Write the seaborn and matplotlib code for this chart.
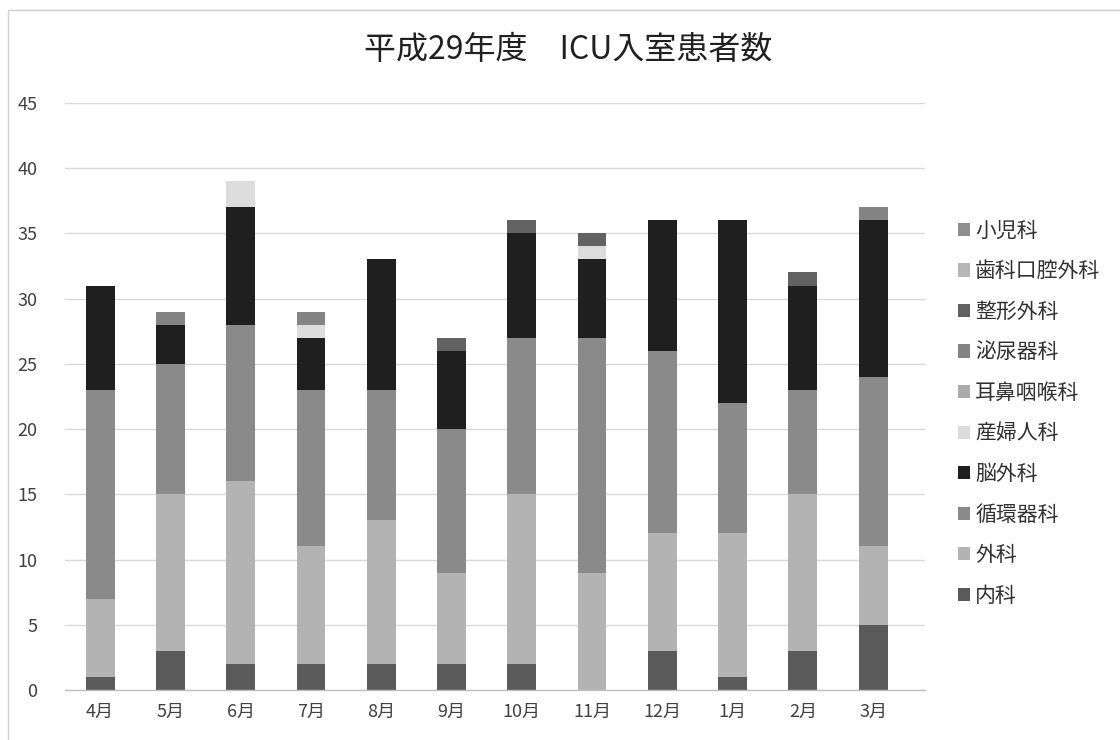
import matplotlib
matplotlib.use("Agg")
import matplotlib.pyplot as plt
from matplotlib.patches import Patch, Rectangle
import numpy as np
import pandas as pd
import seaborn as sns

sns.set_theme(style="white")
plt.rcParams['font.family'] = ['Noto Sans CJK JP', 'DejaVu Sans']

months = ["4月", "5月", "6月", "7月", "8月", "9月", "10月", "11月", "12月", "1月", "2月", "3月"]

# patients per department, stacked bottom to top
naika = [1, 3, 2, 2, 2, 2, 2, 0, 3, 1, 3, 5]
geka = [6, 12, 14, 9, 11, 7, 13, 9, 9, 11, 12, 6]
junkanki = [16, 10, 12, 12, 10, 11, 12, 18, 14, 10, 8, 13]
nougeka = [8, 3, 9, 4, 10, 6, 8, 6, 10, 14, 8, 12]
sanfujin = [0, 0, 2, 1, 0, 0, 0, 1, 0, 0, 0, 0]
jibi = [0, 0, 0, 0, 0, 0, 0, 0, 0, 0, 0, 0]
hinyouki = [0, 1, 0, 1, 0, 0, 0, 0, 0, 0, 0, 1]
seikei = [0, 0, 0, 0, 0, 1, 1, 1, 0, 0, 1, 0]
shika = [0, 0, 0, 0, 0, 0, 0, 0, 0, 0, 0, 0]
shouni = [0, 0, 0, 0, 0, 0, 0, 0, 0, 0, 0, 0]

departments = ["内科", "外科", "循環器科", "脳外科", "産婦人科", "耳鼻咽喉科",
               "泌尿器科", "整形外科", "歯科口腔外科", "小児科"]
series = [naika, geka, junkanki, nougeka, sanfujin, jibi, hinyouki, seikei, shika, shouni]
colors = ["#5a5a5a", "#b3b3b3", "#8a8a8a", "#1f1f1f", "#dcdcdc", "#ababab",
          "#848484", "#626262", "#b8b8b8", "#8e8e8e"]

fig = plt.figure(figsize=(11.2, 7.4), dpi=100)
ax = fig.add_axes([0.058, 0.0676, 0.768, 0.7934])

bottom = np.zeros(len(months))
for name, vals, col in zip(departments, series, colors):
    df = pd.DataFrame({"month": months, "count": vals})
    sns.barplot(data=df, x="month", y="count", order=months, bottom=bottom,
                color=col, width=0.41, saturation=1, ax=ax,
                edgecolor="none", linewidth=0)
    bottom = bottom + np.array(vals)

ax.set_ylim(0, 45)
ax.set_xlim(-0.5, 11.74)
ax.set_yticks(range(0, 46, 5))
ax.yaxis.grid(True, color="#d9d9d9", linewidth=1)
ax.set_axisbelow(True)
for s in ["left", "right", "top"]:
    ax.spines[s].set_visible(False)
ax.spines["bottom"].set_color("#bfbfbf")
ax.spines["bottom"].set_linewidth(1)
ax.tick_params(axis="both", length=0, labelsize=13, labelcolor="#404040")
ax.tick_params(axis="x", pad=9)
ax.tick_params(axis="y", pad=20)
ax.set_xlabel("")
ax.set_ylabel("")

fig.text(0.507, 0.932, "平成29年度　ICU入室患者数", ha="center", va="center",
         fontsize=23, color="#202020")

handles = [Patch(facecolor=c, edgecolor="none") for c in colors]
leg = fig.legend(handles[::-1], departments[::-1], loc="upper left",
                 bbox_to_anchor=(0.855, 0.703), frameon=False,
                 fontsize=15, handlelength=0.6, handleheight=0.6,
                 handletextpad=0.25, labelspacing=0.89, labelcolor="#303030",
                 borderaxespad=0, borderpad=0)

fig.patches.append(Rectangle((0.007, -0.1), 1.1, 1.1 - 0.014, transform=fig.transFigure,
                             fill=False, edgecolor="#d0d0d0", linewidth=1))

fig.savefig("out.png", dpi=100)
